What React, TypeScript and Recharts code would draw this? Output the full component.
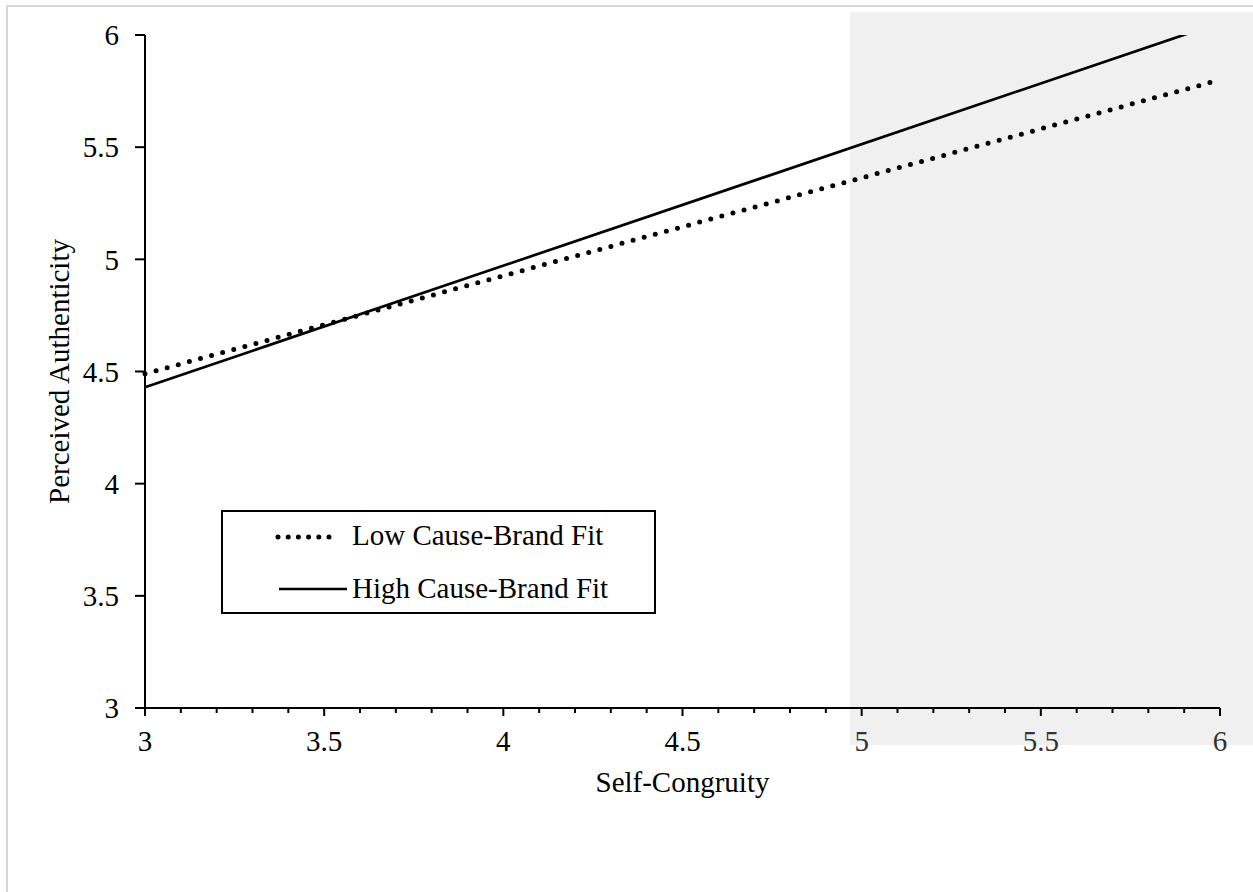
import { LineChart, Line, XAxis, YAxis, Label } from "recharts";

const X_VALUES = [3, 6];
const LOW_FIT = [4.49, 5.8];
const HIGH_FIT = [4.43, 6.055];

const Y_TICKS = [3, 3.5, 4, 4.5, 5, 5.5, 6];
const X_TICKS = [
  3, 3.1, 3.2, 3.3, 3.4, 3.5, 3.6, 3.7, 3.8, 3.9, 4, 4.1, 4.2, 4.3, 4.4, 4.5,
  4.6, 4.7, 4.8, 4.9, 5, 5.1, 5.2, 5.3, 5.4, 5.5, 5.6, 5.7, 5.8, 5.9, 6,
];

const data = X_VALUES.map((x, i) => ({ x, low: LOW_FIT[i], high: HIGH_FIT[i] }));

const FONT = "'Liberation Serif', 'Times New Roman', serif";
const FS = 29;

function XTick(props: any) {
  const { x, y, payload } = props;
  const v = Number(payload.value);
  const major = Math.abs(v * 2 - Math.round(v * 2)) < 1e-6;
  return (
    <g>
      <line x1={x} x2={x} y1={y} y2={y + (major ? 8 : 5)} stroke="#000" strokeWidth={2} />
      {major && (
        <text
          x={x}
          y={y + 43}
          textAnchor="middle"
          fontSize={FS}
          fontFamily={FONT}
          fill={v >= 5 ? "#333" : "#000"}
        >
          {String(v)}
        </text>
      )}
    </g>
  );
}

function LegendBox() {
  return (
    <div
      style={{
        position: "absolute",
        left: 221,
        top: 510,
        width: 435,
        height: 104,
        boxSizing: "border-box",
        border: "2px solid #000",
        background: "#fff",
        fontFamily: FONT,
        fontSize: FS,
      }}
    >
      <svg width={80} height={104} style={{ position: "absolute", left: 50, top: 0 }}>
        <line
          x1={5}
          x2={66}
          y1={25}
          y2={25}
          stroke="#000"
          strokeWidth={5}
          strokeLinecap="round"
          strokeDasharray="0 10.2"
        />
        <line x1={6} x2={74} y1={77} y2={77} stroke="#000" strokeWidth={2.7} />
      </svg>
      <div style={{ position: "absolute", left: 129, top: 7, lineHeight: "32px", whiteSpace: "nowrap" }}>
        Low Cause-Brand Fit
      </div>
      <div style={{ position: "absolute", left: 129, top: 60, lineHeight: "32px", whiteSpace: "nowrap" }}>
        High Cause-Brand Fit
      </div>
    </div>
  );
}

export default function App() {
  return (
    <div
      style={{
        position: "absolute",
        left: 0,
        top: 0,
        width: 1253,
        height: 892,
        overflow: "hidden",
        background: "#fff",
        fontFamily: FONT,
      }}
    >
      <div
        style={{
          position: "absolute",
          left: 850,
          top: 12,
          width: 403,
          height: 733,
          background: "#f0f0f0",
        }}
      />
      <div style={{ position: "absolute", left: 0, top: 0 }}>
        <LineChart width={1253} height={892} data={data} margin={{ top: 35, right: 33, bottom: 0, left: 0 }}>
          <XAxis
            dataKey="x"
            type="number"
            domain={[3, 6]}
            ticks={X_TICKS}
            interval={0}
            height={184}
            tickSize={0}
            tickMargin={0}
            tick={<XTick />}
            axisLine={{ stroke: "#000", strokeWidth: 2 }}
          >
            <Label
              value="Self-Congruity"
              position="insideTop"
              offset={63}
              style={{ fontSize: FS, fontFamily: FONT, fill: "#000" }}
            />
          </XAxis>
          <YAxis
            type="number"
            domain={[3, 6]}
            allowDataOverflow
            ticks={Y_TICKS}
            interval={0}
            width={145}
            tickSize={10}
            tickMargin={16}
            tick={{ fontSize: FS, fontFamily: FONT, fill: "#000" }}
            tickLine={{ stroke: "#000", strokeWidth: 2 }}
            axisLine={{ stroke: "#000", strokeWidth: 2 }}
          >
            <Label
              value="Perceived Authenticity"
              position="insideLeft"
              angle={-90}
              offset={59}
              style={{ fontSize: FS, fontFamily: FONT, fill: "#000", textAnchor: "middle" }}
            />
          </YAxis>
          <Line
            dataKey="low"
            name="Low Cause-Brand Fit"
            stroke="#000"
            strokeWidth={5}
            strokeLinecap="round"
            strokeDasharray="0 11.5"
            dot={false}
            activeDot={false}
            isAnimationActive={false}
          />
          <Line
            dataKey="high"
            name="High Cause-Brand Fit"
            stroke="#000"
            strokeWidth={2.7}
            dot={false}
            activeDot={false}
            isAnimationActive={false}
          />
        </LineChart>
      </div>
      <LegendBox />
      {/* light frame of the original figure */}
      <div style={{ position: "absolute", left: 6, top: 5, width: 1247, height: 2, background: "#d6d6d6" }} />
      <div style={{ position: "absolute", left: 6, top: 5, width: 2, height: 887, background: "#d6d6d6" }} />
    </div>
  );
}
